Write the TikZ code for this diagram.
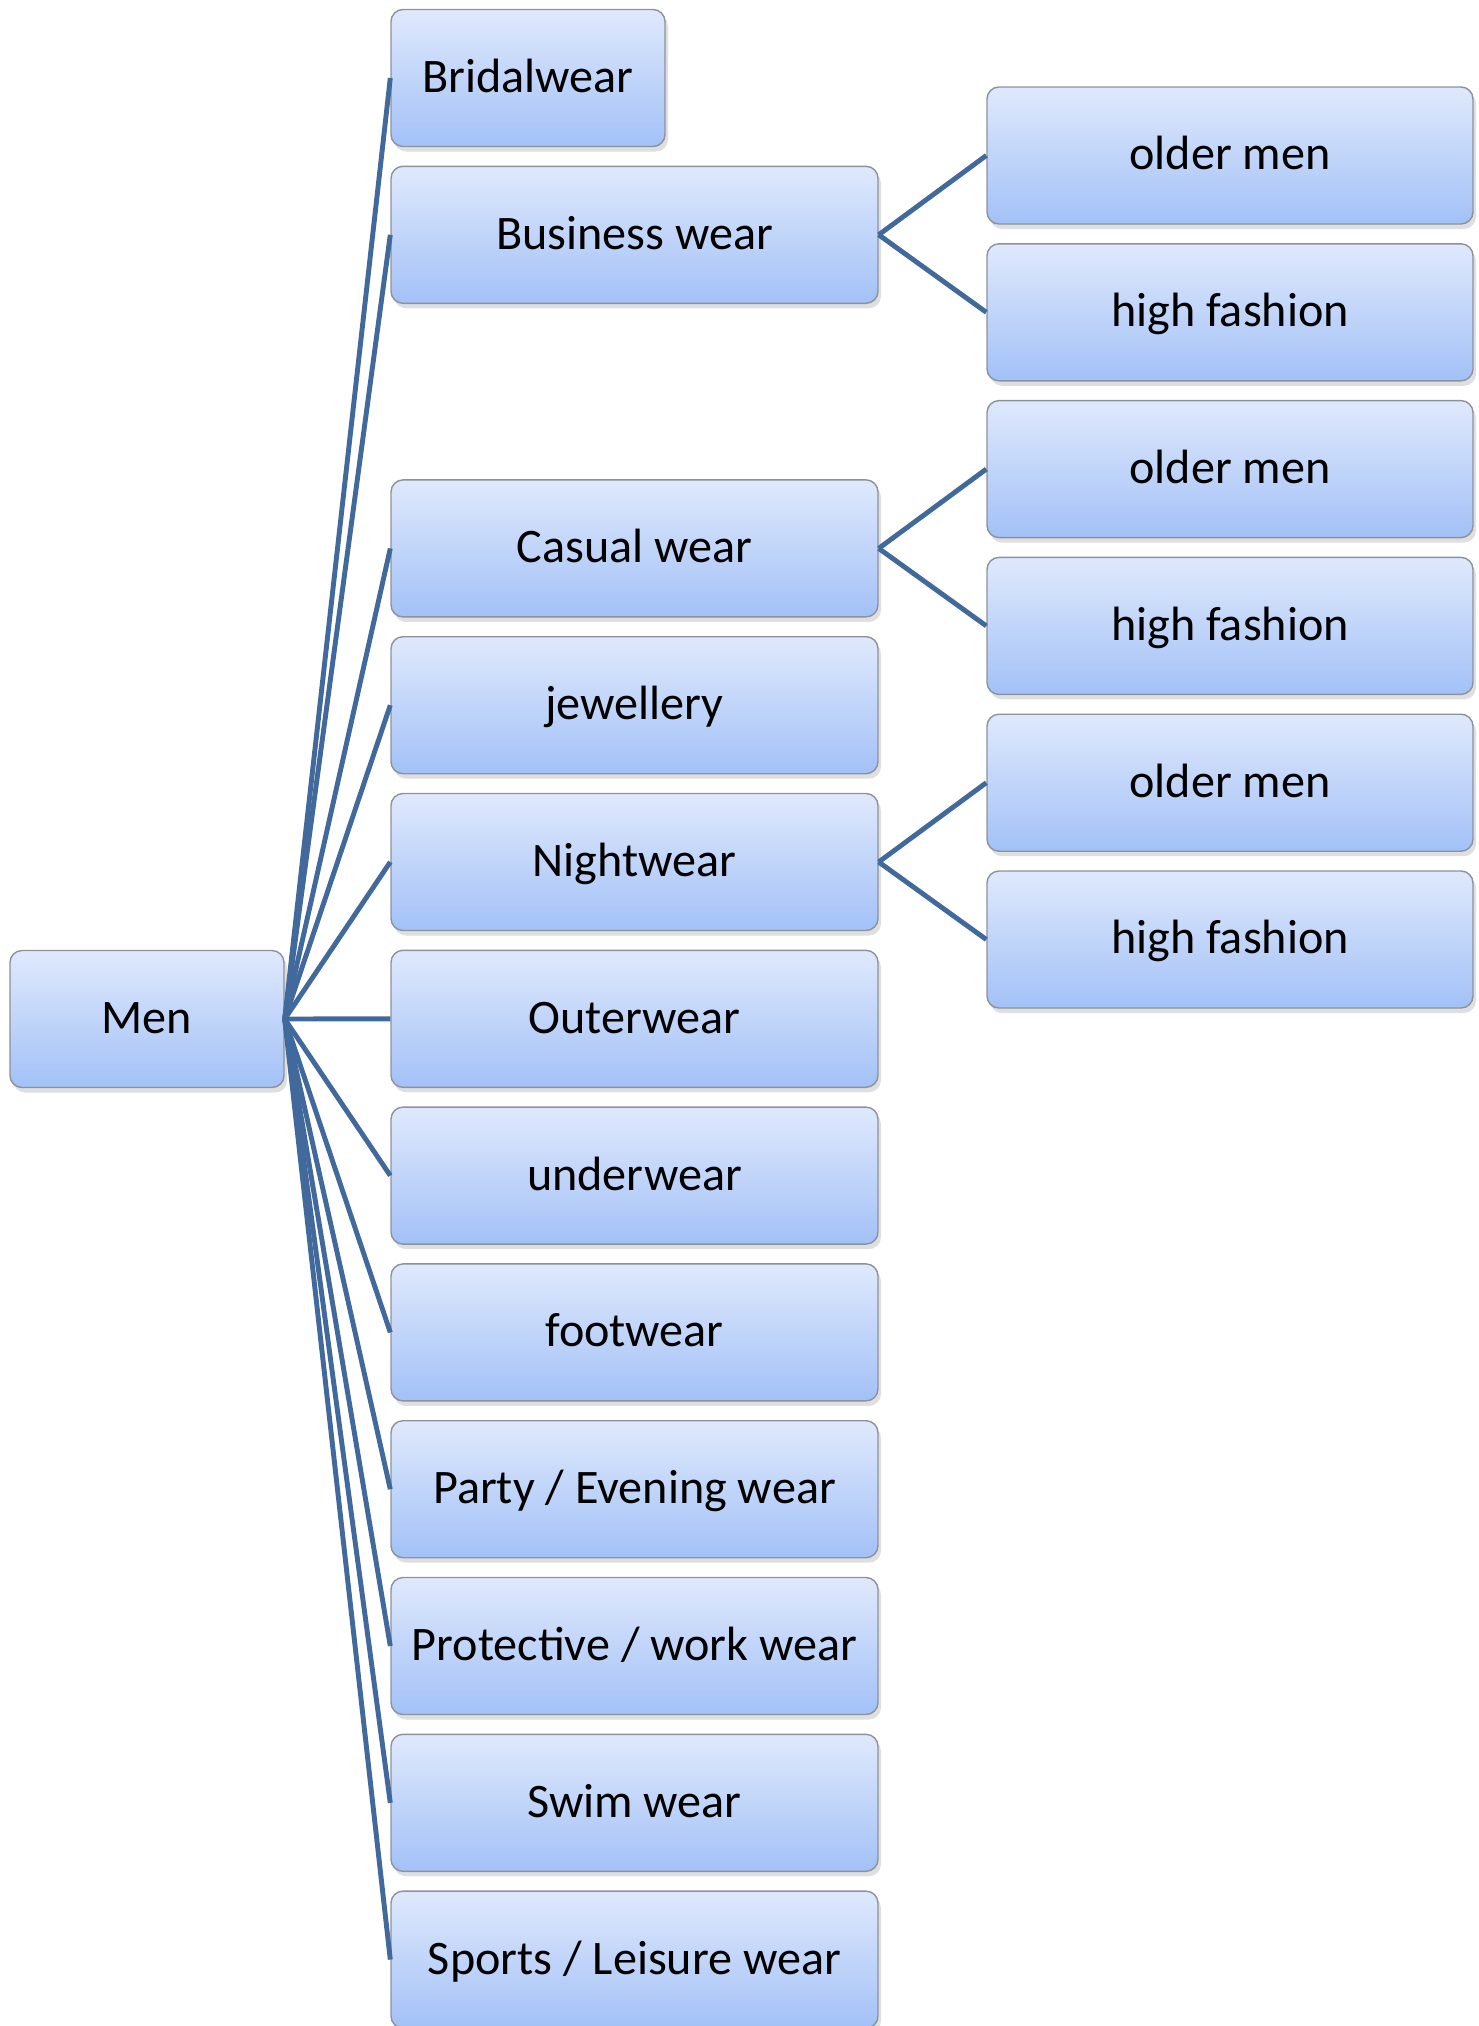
\documentclass[tikz,border=0pt]{standalone}
\usepackage{fontspec}
\setmainfont{Carlito}
\usetikzlibrary{positioning, shadows}

\definecolor{boxtop}{HTML}{DFE9FC}
\definecolor{boxbottom}{HTML}{A3C1F7}
\definecolor{boxline}{HTML}{8C929C}
\definecolor{linkblue}{HTML}{41699B}

\begin{document}
\begin{tikzpicture}[node distance=1.568cm]
        % Define block styles
        \tikzstyle{catbox} = [rectangle, rounded corners=1.2mm, minimum height=1.37cm, text centered, inner sep=0pt, draw=boxline, line width=0.4pt, top color=boxtop, bottom color=boxbottom, drop shadow={opacity=0.25, shadow xshift=0.3mm, shadow yshift=-0.5mm}, font=\fontsize{13.7}{16}\selectfont, text height=0.82em, text depth=0pt]
        \tikzstyle{root} = [catbox, minimum width=2.74cm]
        \tikzstyle{mid} = [catbox, minimum width=4.87cm]
        \tikzstyle{leaf} = [catbox, minimum width=4.86cm]
        \tikzstyle{link} = [draw=linkblue, line width=1.4pt]

        \useasboundingbox (0,0) rectangle (14.79,-20.26);

        % Nodes
        \node (men) [root] at (1.47,-10.19) {Men};
        \node (bridal) [root] at (5.28,-0.78) {Bridalwear};
        \node (business) [mid] at (6.345,-2.348) {Business wear};
        \node (casual) [mid, below of=business, yshift=-1.568cm] {Casual wear};
        \node (jewel) [mid, below of=casual] {jewellery};
        \node (night) [mid, below of=jewel] {Nightwear};
        \node (outer) [mid, below of=night] {Outerwear};
        \node (under) [mid, below of=outer] {underwear};
        \node (foot) [mid, below of=under] {footwear};
        \node (party) [mid, below of=foot] {Party / Evening wear};
        \node (protect) [mid, below of=party] {Protective / work wear};
        \node (swim) [mid, below of=protect] {Swim wear};
        \node (sports) [mid, below of=swim] {Sports / Leisure wear};

        \node (busold) [leaf] at (12.30,-1.555) {older men};
        \node (bushigh) [leaf, below of=busold] {high fashion};
        \node (casold) [leaf, below of=bushigh] {older men};
        \node (cashigh) [leaf, below of=casold] {high fashion};
        \node (nightold) [leaf, below of=cashigh] {older men};
        \node (nighthigh) [leaf, below of=nightold] {high fashion};

        % Links from Men
        \draw [link] (men.east) -- (bridal.west);
        \draw [link] (men.east) -- (business.west);
        \draw [link] (men.east) -- (casual.west);
        \draw [link] (men.east) -- (jewel.west);
        \draw [link] (men.east) -- (night.west);
        \draw [link] (men.east) -- (outer.west);
        \draw [link] (men.east) -- (under.west);
        \draw [link] (men.east) -- (foot.west);
        \draw [link] (men.east) -- (party.west);
        \draw [link] (men.east) -- (protect.west);
        \draw [link] (men.east) -- (swim.west);
        \draw [link] (men.east) -- (sports.west);

        % Second level
        \draw [link] (business.east) -- (busold.west);
        \draw [link] (business.east) -- (bushigh.west);
        \draw [link] (casual.east) -- (casold.west);
        \draw [link] (casual.east) -- (cashigh.west);
        \draw [link] (night.east) -- (nightold.west);
        \draw [link] (night.east) -- (nighthigh.west);
    \end{tikzpicture}
\end{document}
